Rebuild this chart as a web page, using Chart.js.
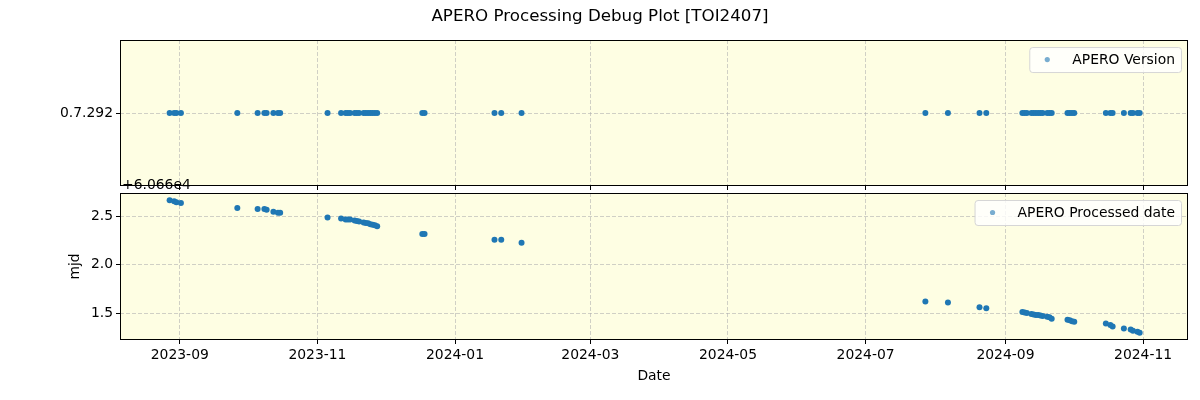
<!DOCTYPE html>
<html>
<head>
<meta charset="utf-8">
<script src="https://cdn.jsdelivr.net/npm/chart.js@4.4.1/dist/chart.umd.min.js"></script>
<style>
  html, body { margin: 0; padding: 0; background: #ffffff; }
  #wrap { position: relative; width: 1200px; height: 400px; overflow: hidden; }
  #topBox { position: absolute; left: 0; top: 0; width: 1200px; height: 190px; }
  #botBox { position: absolute; left: 0; top: 186px; width: 1200px; height: 214px; }
  #offset { position: absolute; left: 122px; top: 177px; font-family: 'DejaVu Sans', sans-serif; font-size: 13.9px; color: #000; z-index: 5; line-height: 15px; }
</style>
</head>
<body>
<div id="wrap">
  <div id="topBox"><canvas id="topChart"></canvas></div>
  <div id="botBox"><canvas id="botChart"></canvas></div>
  <div id="offset">+6.066e4</div>
</div>
<script>
const chartTitle = 'APERO Processing Debug Plot [TOI2407]';
const xTickLabels = ['2023-09','2023-11','2024-01','2024-03','2024-05','2024-07','2024-09','2024-11'];
const versionLabels = ['0.7.292'];
const obsDates = [
  '2023-08-27','2023-08-29','2023-08-30','2023-09-01','2023-09-26','2023-10-05','2023-10-08','2023-10-09',
  '2023-10-12','2023-10-14','2023-10-15','2023-11-05','2023-11-11','2023-11-13','2023-11-14','2023-11-15',
  '2023-11-17','2023-11-18','2023-11-19','2023-11-21','2023-11-22','2023-11-23','2023-11-24','2023-11-25',
  '2023-11-26','2023-11-27','2023-12-17','2023-12-18','2024-01-18','2024-01-21','2024-01-30','2024-07-27',
  '2024-08-06','2024-08-20','2024-08-23','2024-09-08','2024-09-09','2024-09-10','2024-09-12','2024-09-13',
  '2024-09-14','2024-09-15','2024-09-16','2024-09-17','2024-09-19','2024-09-20','2024-09-21','2024-09-28',
  '2024-09-29','2024-09-30','2024-10-01','2024-10-15','2024-10-17','2024-10-18','2024-10-23','2024-10-26',
  '2024-10-27','2024-10-29','2024-10-30'
];
const versionValues = [
  '0.7.292','0.7.292','0.7.292','0.7.292','0.7.292','0.7.292','0.7.292','0.7.292',
  '0.7.292','0.7.292','0.7.292','0.7.292','0.7.292','0.7.292','0.7.292','0.7.292',
  '0.7.292','0.7.292','0.7.292','0.7.292','0.7.292','0.7.292','0.7.292','0.7.292',
  '0.7.292','0.7.292','0.7.292','0.7.292','0.7.292','0.7.292','0.7.292','0.7.292',
  '0.7.292','0.7.292','0.7.292','0.7.292','0.7.292','0.7.292','0.7.292','0.7.292',
  '0.7.292','0.7.292','0.7.292','0.7.292','0.7.292','0.7.292','0.7.292','0.7.292',
  '0.7.292','0.7.292','0.7.292','0.7.292','0.7.292','0.7.292','0.7.292','0.7.292',
  '0.7.292','0.7.292','0.7.292'
];
// processed date, MJD minus 60660 (offset shown as +6.066e4)
const mjdValues = [
  2.67, 2.66, 2.65, 2.64, 2.59, 2.58, 2.58, 2.57,
  2.55, 2.54, 2.54, 2.49, 2.48, 2.47, 2.47, 2.47,
  2.46, 2.455, 2.45, 2.44, 2.435, 2.43, 2.42, 2.415,
  2.41, 2.40, 2.32, 2.32, 2.26, 2.26, 2.23, 1.62,
  1.61, 1.56, 1.55, 1.51, 1.505, 1.50, 1.49, 1.485,
  1.48, 1.48, 1.475, 1.47, 1.46, 1.455, 1.44, 1.43,
  1.425, 1.415, 1.41, 1.39, 1.375, 1.36, 1.34, 1.33,
  1.315, 1.305, 1.295
];
const mjdTicks = [1.5, 2.0, 2.5];

function toMs(s) {
  const p = s.split('-').map(Number);
  return Date.UTC(p[0], p[1] - 1, p.length > 2 ? p[2] : 1, 12);
}
const xMin = Date.UTC(2023, 7, 5, 12);
const xMax = Date.UTC(2024, 10, 20, 22);

const FS = 13.9;
Chart.defaults.font.family = "'DejaVu Sans', sans-serif";
Chart.defaults.font.size = FS;
Chart.defaults.color = '#000000';
Chart.defaults.animation = false;

const BLUE = '#1f77b4';
const GRID = 'rgba(176,176,176,0.6)';

const framePlugin = {
  id: 'frame',
  beforeDraw(chart) {
    const a = chart.chartArea, ctx = chart.ctx;
    ctx.save();
    ctx.fillStyle = '#fefee3';
    ctx.fillRect(a.left, a.top, a.right - a.left, a.bottom - a.top);
    ctx.restore();
  },
  afterDraw(chart) {
    const a = chart.chartArea, ctx = chart.ctx;
    ctx.save();
    ctx.strokeStyle = '#000';
    ctx.lineWidth = 1;
    ctx.setLineDash([]);
    ctx.strokeRect(Math.round(a.left) + 0.5, Math.round(a.top) + 0.5,
      Math.round(a.right - a.left) - 1, Math.round(a.bottom - a.top) - 1);
    // legend (upper right)
    const label = chart.data.datasets[0].label;
    ctx.font = FS + "px 'DejaVu Sans', sans-serif";
    const tw = ctx.measureText(label).width;
    const boxRight = a.right - 7;
    const boxTop = a.top + 7;
    const boxH = 25;
    const textX = boxRight - 6 - tw;
    const markX = textX - 25;
    const boxLeft = markX - 18;
    const midY = boxTop + boxH / 2;
    ctx.beginPath();
    if (ctx.roundRect) ctx.roundRect(boxLeft + 0.5, boxTop + 0.5, boxRight - boxLeft, boxH, 3);
    else ctx.rect(boxLeft + 0.5, boxTop + 0.5, boxRight - boxLeft, boxH);
    ctx.fillStyle = 'rgba(255,255,255,0.8)';
    ctx.fill();
    ctx.strokeStyle = '#d6d6d6';
    ctx.stroke();
    ctx.beginPath();
    ctx.arc(markX, midY, 2.6, 0, Math.PI * 2);
    ctx.fillStyle = 'rgba(31,119,180,0.6)';
    ctx.fill();
    ctx.fillStyle = '#000';
    ctx.textBaseline = 'middle';
    ctx.textAlign = 'left';
    ctx.fillText(label, textX, midY + 0.5);
    ctx.restore();
  }
};

const gridOpts = {
  color: GRID,
  lineWidth: 1,
  drawTicks: true,
  tickLength: 4,
  tickColor: '#000',
  tickWidth: 1,
  tickBorderDash: [1, 0]
};
const borderOpts = { display: false, dash: [4, 2] };

function xAxis(showLabels, fitH) {
  return {
    type: 'linear',
    min: xMin,
    max: xMax,
    afterBuildTicks(scale) { scale.ticks = xTickLabels.map(l => ({ value: toMs(l) - 12 * 3600000 })); },
    afterFit(scale) { scale.height = fitH; scale.paddingLeft = 0; scale.paddingRight = 0; },
    ticks: {
      display: showLabels,
      padding: 3,
      autoSkip: false,
      maxRotation: 0,
      callback(v, i) { return xTickLabels[i]; }
    },
    grid: Object.assign({}, gridOpts),
    border: Object.assign({}, borderOpts)
  };
}

new Chart(document.getElementById('topChart'), {
  type: 'scatter',
  data: {
    datasets: [{
      label: 'APERO Version',
      data: obsDates.map((d, i) => ({ x: toMs(d), y: versionLabels.indexOf(versionValues[i]) })),
      backgroundColor: BLUE,
      borderWidth: 0,
      pointRadius: 3,
      pointHoverRadius: 3
    }]
  },
  options: {
    responsive: true,
    maintainAspectRatio: false,
    layout: { padding: { left: 12, right: 12, top: 0, bottom: 0 } },
    plugins: {
      legend: { display: false },
      tooltip: { enabled: false },
      title: {
        display: true,
        text: chartTitle,
        font: { size: 16.7, weight: 'normal' },
        color: '#000',
        padding: { top: 7, bottom: 13 }
      }
    },
    scales: {
      x: xAxis(false, 4),
      y: {
        type: 'linear',
        min: -1,
        max: 1,
        afterBuildTicks(scale) { scale.ticks = versionLabels.map((l, i) => ({ value: i })); },
        afterFit(scale) { scale.width = 108; scale.paddingTop = 0; scale.paddingBottom = 0; },
        ticks: { callback(v) { return versionLabels[v]; }, padding: 3 },
        grid: Object.assign({}, gridOpts),
        border: Object.assign({}, borderOpts)
      }
    }
  },
  plugins: [framePlugin]
});

new Chart(document.getElementById('botChart'), {
  type: 'scatter',
  data: {
    datasets: [{
      label: 'APERO Processed date',
      data: obsDates.map((d, i) => ({ x: toMs(d), y: mjdValues[i] })),
      backgroundColor: BLUE,
      borderWidth: 0,
      pointRadius: 3,
      pointHoverRadius: 3
    }]
  },
  options: {
    responsive: true,
    maintainAspectRatio: false,
    layout: { padding: { left: 60, right: 12, top: 7, bottom: 0 } },
    plugins: {
      legend: { display: false },
      tooltip: { enabled: false }
    },
    scales: {
      x: Object.assign(xAxis(true, 60), {
        title: { display: true, text: 'Date', padding: { top: 4, bottom: 15 } }
      }),
      y: {
        type: 'linear',
        min: 1.22,
        max: 2.745,
        afterBuildTicks(scale) { scale.ticks = mjdTicks.map(v => ({ value: v })); },
        afterFit(scale) { scale.width = 60; scale.paddingTop = 0; scale.paddingBottom = 0; },
        ticks: { callback(v) { return v.toFixed(1); }, padding: 3 },
        title: { display: true, text: 'mjd', padding: { top: 7, bottom: 4 } },
        grid: Object.assign({}, gridOpts),
        border: Object.assign({}, borderOpts)
      }
    }
  },
  plugins: [framePlugin]
});
</script>
</body>
</html>
